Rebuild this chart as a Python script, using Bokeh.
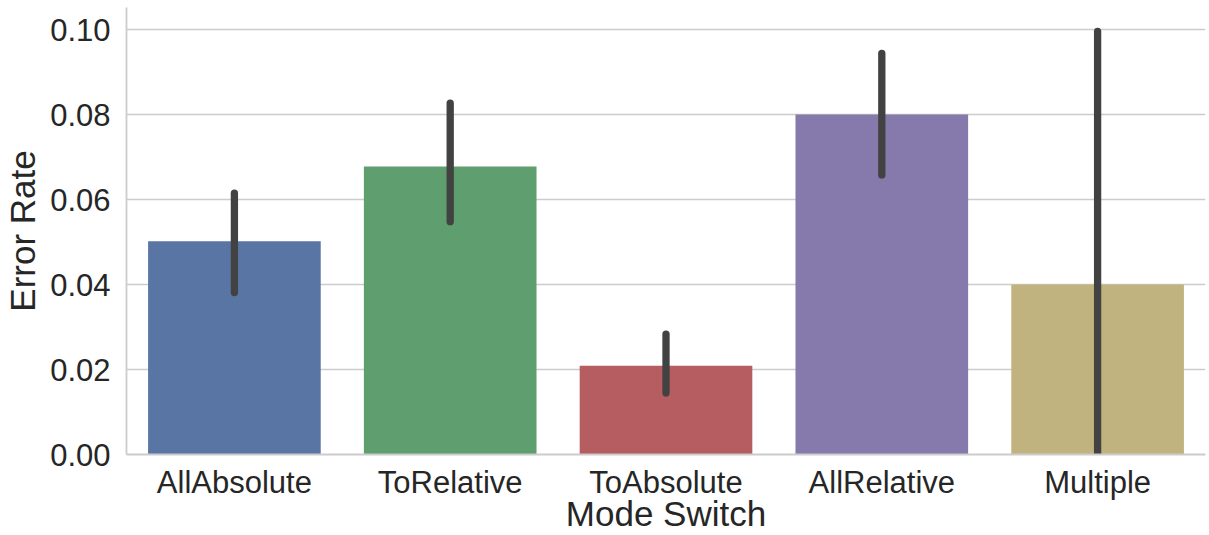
from bokeh.plotting import figure
from bokeh.models import ColumnDataSource, FixedTicker, PrintfTickFormatter, Range1d
from bokeh.embed import file_html
from bokeh.resources import INLINE

categories = ["AllAbsolute", "ToRelative", "ToAbsolute", "AllRelative", "Multiple"]
error_rate = [0.0502, 0.0678, 0.0209, 0.0800, 0.0400]
ci_low = [0.0381, 0.0548, 0.0145, 0.0658, 0.0000]
ci_high = [0.0615, 0.0827, 0.0283, 0.0944, 0.0996]
colors = ["#5975A4", "#5F9E6E", "#B55D60", "#857AAB", "#C1B37F"]
y_ticks = [0.0, 0.02, 0.04, 0.06, 0.08, 0.10]

src = ColumnDataSource(dict(cat=categories, val=error_rate, lo=ci_low, hi=ci_high, color=colors))

p = figure(x_range=categories, y_range=Range1d(0, 0.1052), width=1209, height=535,
           output_backend="svg", toolbar_location=None,
           min_border_left=100, min_border_right=4, min_border_top=7, min_border_bottom=80)
p.outline_line_color = None
p.background_fill_color = "white"

p.vbar(x="cat", top="val", width=0.8, color="color", line_color=None, source=src)
p.segment(x0="cat", x1="cat", y0="lo", y1="hi", line_color="#424242", line_width=7.3,
          line_cap="round", source=src)

font = "Liberation Sans"
tc = "#262626"
grid = "#CCCCCC"

p.xgrid.grid_line_color = None
p.ygrid.grid_line_color = grid
p.ygrid.grid_line_width = 1.6
p.yaxis.ticker = FixedTicker(ticks=y_ticks)
p.yaxis.formatter = PrintfTickFormatter(format="%.2f")

for ax in (p.xaxis[0], p.yaxis[0]):
    ax.axis_line_color = grid
    ax.axis_line_width = 1.8
    ax.major_tick_line_color = None
    ax.minor_tick_line_color = None
    ax.major_tick_out = 0
    ax.major_tick_in = 0
    ax.major_label_text_font = font
    ax.major_label_text_font_size = "31px"
    ax.major_label_text_color = tc
    ax.axis_label_text_font = font
    ax.axis_label_text_font_size = "35px"
    ax.axis_label_text_font_style = "normal"
    ax.axis_label_text_color = tc

p.xaxis.axis_label = "Mode Switch"
p.yaxis.axis_label = "Error Rate"
p.xaxis.major_label_standoff = 10
p.yaxis.major_label_standoff = 16
p.xaxis.axis_label_standoff = -9
p.yaxis.axis_label_standoff = 5

open("out.html", "w").write(file_html(p, INLINE))
